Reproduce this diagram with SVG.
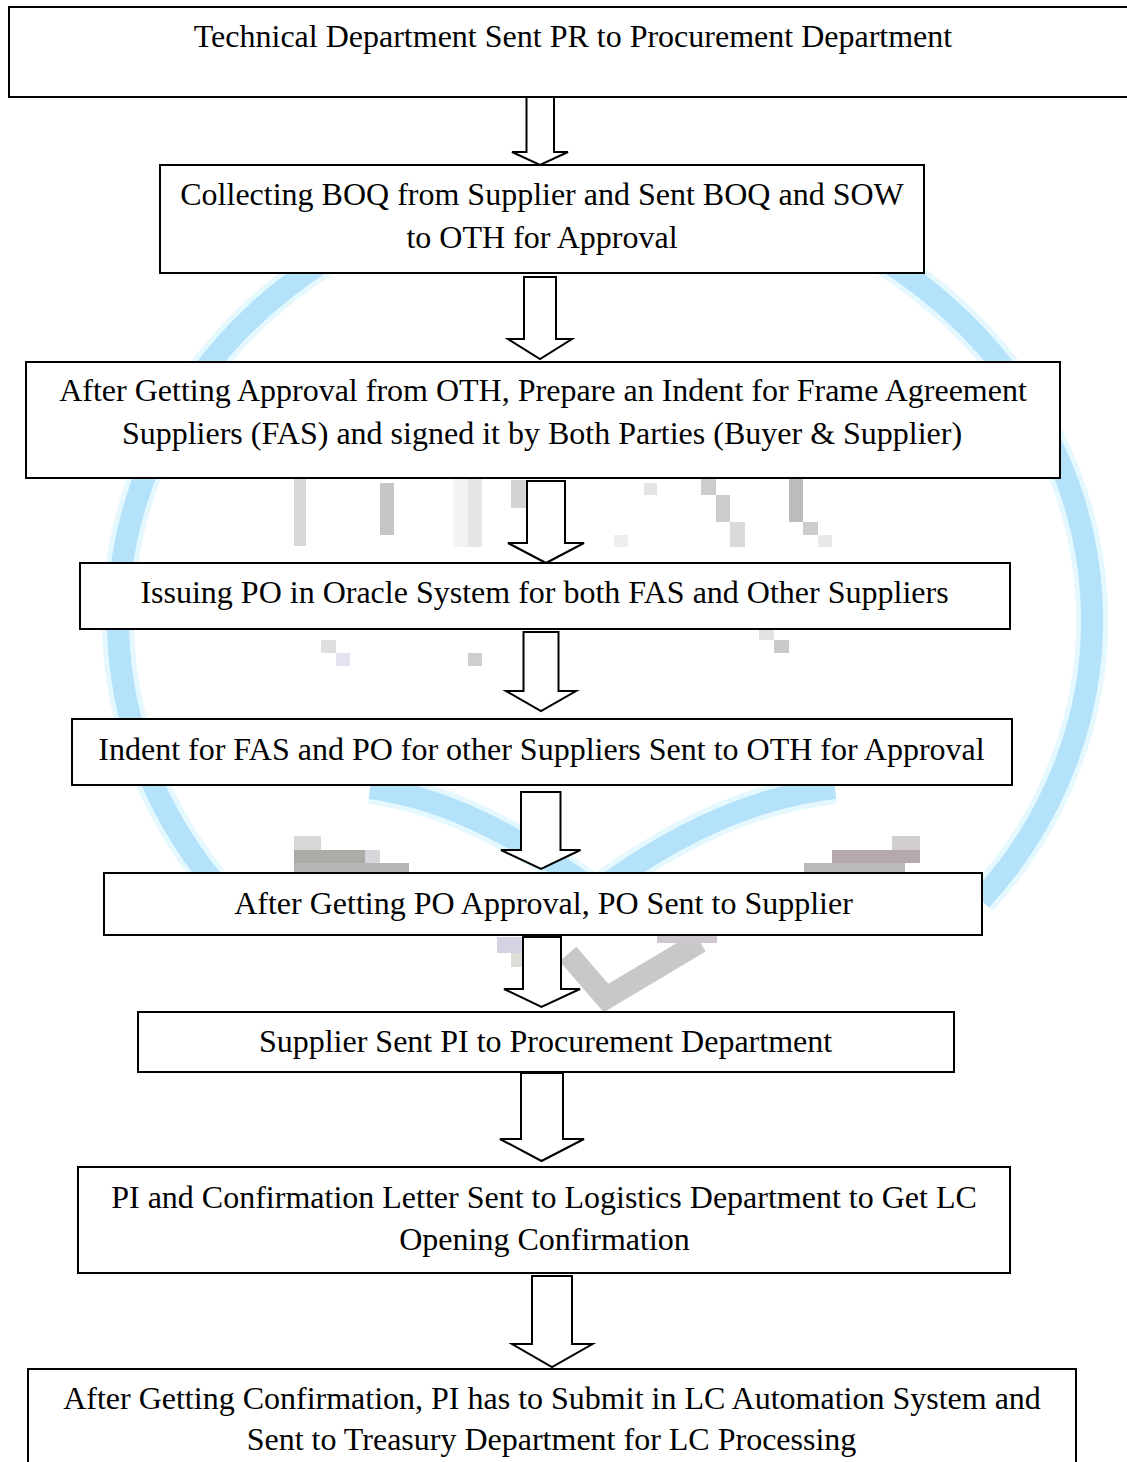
<svg xmlns="http://www.w3.org/2000/svg" width="1127" height="1462" viewBox="0 0 1127 1462">
  <style>
    .box { fill: #ffffff; stroke: #000000; stroke-width: 2; }
    .arrow { fill: #ffffff; stroke: #000000; stroke-width: 2; stroke-linejoin: miter; }
    .label { font-family: "Liberation Serif", "Times New Roman", serif; font-size: 32px; fill: #000000; text-anchor: middle; }
    .ring { fill: none; stroke: #b4e2fb; stroke-width: 22; }
    .halo { fill: none; stroke: #e4f8fe; stroke-width: 32; }
  </style>

  <rect width="1127" height="1462" fill="#ffffff"/>

  <!-- faint background emblem -->
  <g id="watermark">
    <path class="halo" d="M 212 880 A 487 440 0 1 1 981 900"/>
    <path class="ring" d="M 212 880 A 487 440 0 1 1 981 900"/>
    <path class="halo" d="M 370 788 Q 470 800 596 892 Q 720 800 835 788"/>
    <path class="ring" d="M 370 788 Q 470 800 596 892 Q 720 800 835 788"/>
    <g>
      <rect x="294" y="478" width="12" height="68" fill="#d8d8d8"/>
      <rect x="380" y="483" width="14" height="52" fill="#c6c6c6"/>
      <rect x="453" y="478" width="15" height="69" fill="#f3f3f3"/>
      <rect x="468" y="478" width="14" height="69" fill="#e6e6e6"/>
      <rect x="511" y="480" width="15" height="28" fill="#d4d4d4"/>
      <rect x="644" y="483" width="13" height="12" fill="#e4e4e4"/>
      <rect x="701" y="478" width="15" height="17" fill="#cccccc"/>
      <rect x="716" y="495" width="14" height="27" fill="#cccccc"/>
      <rect x="730" y="522" width="15" height="25" fill="#dadada"/>
      <rect x="789" y="478" width="14" height="44" fill="#bcbcbc"/>
      <rect x="803" y="522" width="15" height="13" fill="#cccccc"/>
      <rect x="818" y="535" width="14" height="12" fill="#e8e8e8"/>
      <rect x="614" y="535" width="14" height="12" fill="#ededed"/>
      <rect x="321" y="640" width="15" height="13" fill="#dedede"/>
      <rect x="336" y="653" width="14" height="13" fill="#e2e2f0"/>
      <rect x="468" y="653" width="14" height="13" fill="#cecece"/>
      <rect x="759" y="630" width="15" height="10" fill="#e2e2e2"/>
      <rect x="774" y="640" width="15" height="13" fill="#cacaca"/>
      <rect x="294" y="836" width="27" height="14" fill="#d6d8d8"/>
      <rect x="294" y="850" width="71" height="13" fill="#a9ada5"/>
      <rect x="365" y="850" width="15" height="13" fill="#d8d6da"/>
      <rect x="294" y="863" width="115" height="10" fill="#b6b6b6"/>
      <rect x="892" y="836" width="28" height="14" fill="#d2cece"/>
      <rect x="832" y="850" width="88" height="13" fill="#b4aaac"/>
      <rect x="804" y="863" width="101" height="10" fill="#bababa"/>
      <rect x="497" y="937" width="27" height="16" fill="#d6d2e4"/>
      <rect x="511" y="953" width="13" height="14" fill="#dcdfd8"/>
      <polyline points="568,954 606,998 700,942" fill="none" stroke="#c8c8c8" stroke-width="22" stroke-linejoin="miter"/>
      <rect x="657" y="933" width="60" height="10" fill="#d0c6d0"/>
    </g>
  </g>

  <!-- block arrows between the steps -->
  <g id="connectors">
    <polygon class="arrow" points="526.5,97 554,97 554,152 568,152 540,165 512,152 526.5,152"/>
    <polygon class="arrow" points="524,277 556,277 556,339 572,339 540,359 508,339 524,339"/>
    <polygon class="arrow" points="527,481 565,481 565,543 584,543 546,563 508,543 527,543"/>
    <polygon class="arrow" points="523.5,632 558.5,632 558.5,691 576,691 541,711 506,691 523.5,691"/>
    <polygon class="arrow" points="521,792 560.5,792 560.5,850 580.5,850 541,869 501,850 521,850"/>
    <polygon class="arrow" points="523,937 561,937 561,989 580,989 541.5,1007 504,989 523,989"/>
    <polygon class="arrow" points="521,1073 563,1073 563,1139 584,1139 541.5,1161 500,1139 521,1139"/>
    <polygon class="arrow" points="532,1276 572,1276 572,1344 592.5,1344 552,1367 512,1344 532,1344"/>
  </g>

  <g id="step1">
    <rect class="box" x="9" y="7" width="1125" height="90"/>
    <text class="label" x="573" y="47">Technical Department Sent PR to Procurement Department</text>
  </g>

  <g id="step2">
    <rect class="box" x="160" y="165" width="764" height="108"/>
    <text class="label" x="542" y="205">Collecting BOQ from Supplier and Sent BOQ and SOW</text>
    <text class="label" x="542" y="248">to OTH for Approval</text>
  </g>

  <g id="step3">
    <rect class="box" x="26" y="362" width="1034" height="116"/>
    <text class="label" x="543" y="401">After Getting Approval from OTH, Prepare an Indent for Frame Agreement</text>
    <text class="label" x="542" y="444">Suppliers (FAS) and signed it by Both Parties (Buyer &amp; Supplier)</text>
  </g>

  <g id="step4">
    <rect class="box" x="80" y="563" width="930" height="66"/>
    <text class="label" x="544.5" y="603">Issuing PO in Oracle System for both FAS and Other Suppliers</text>
  </g>

  <g id="step5">
    <rect class="box" x="72" y="719" width="940" height="66"/>
    <text class="label" x="541.5" y="760">Indent for FAS and PO for other Suppliers Sent to OTH for Approval</text>
  </g>

  <g id="step6">
    <rect class="box" x="104" y="873" width="878" height="62"/>
    <text class="label" x="543.5" y="914">After Getting PO Approval, PO Sent to Supplier</text>
  </g>

  <g id="step7">
    <rect class="box" x="138" y="1012" width="816" height="60"/>
    <text class="label" x="545.5" y="1052">Supplier Sent PI to Procurement Department</text>
  </g>

  <g id="step8">
    <rect class="box" x="78" y="1167" width="932" height="106"/>
    <text class="label" x="544" y="1208">PI and Confirmation Letter Sent to Logistics Department to Get LC</text>
    <text class="label" x="544.5" y="1250">Opening Confirmation</text>
  </g>

  <g id="step9">
    <rect class="box" x="28" y="1369" width="1048" height="110"/>
    <text class="label" x="552" y="1409">After Getting Confirmation, PI has to Submit in LC Automation System and</text>
    <text class="label" x="551.5" y="1450">Sent to Treasury Department for LC Processing</text>
  </g>
</svg>
